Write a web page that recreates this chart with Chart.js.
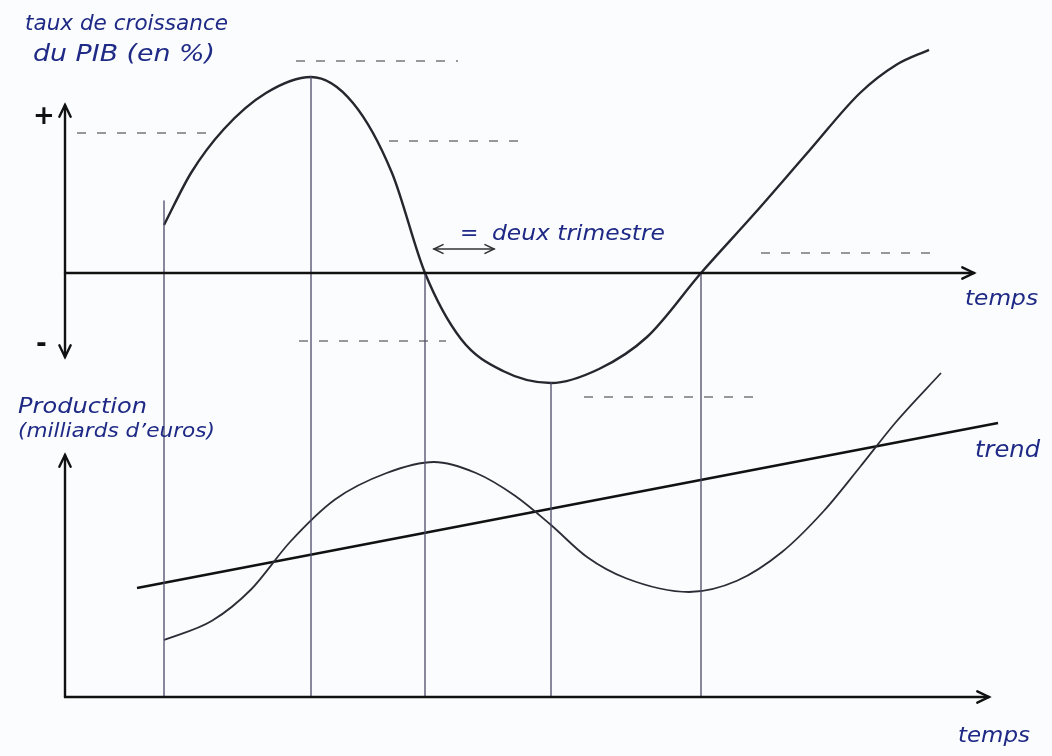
<!DOCTYPE html>
<html>
<head>
<meta charset="utf-8">
<script src="https://cdn.jsdelivr.net/npm/chart.js"></script>
<style>
    body { margin: 0; background: #fbfcfd; }
    #wrap { width: 1052px; height: 756px; }
</style>
</head>
<body>
<div id="wrap"><canvas id="myChart" width="1052" height="756"></canvas></div>
<script>
// time in quarters, growth in %, production in billions of euros
var growthT = [3.3, 4.2, 5.3, 6.7, 8.2, 9.6, 10.9, 12.0, 13.2, 14.6, 16.2, 17.8, 19.4, 21.2, 23.0, 24.8, 26.5, 27.7, 28.8];
var growthV = [1.2, 2.5, 3.6, 4.5, 4.9, 4.25, 2.5, 0, -1.65, -2.45, -2.75, -2.4, -1.6, 0, 1.5, 3.05, 4.5, 5.2, 5.58];

var prodT = [3.3, 4.9, 6.2, 7.5, 9.0, 10.7, 12.3, 13.7, 15.0, 16.2, 17.4, 18.7, 20.8, 22.4, 23.9, 25.3, 26.5, 27.7, 29.2];
var prodV = [22.8, 30.5, 43, 62, 79, 89.5, 94, 89.6, 80.5, 68.8, 56, 47.5, 42, 46.5, 58, 74.5, 92, 110, 129.6];

var trendT = [2.4, 31.1];
var trendV = [43.6, 109.6];

// turning points and zero crossings, dropped down to the time axis
var markT = [3.3, 8.2, 12.0, 16.2, 21.2];
var markTop = [1.8, 4.9, 0, -2.75, 0];

// dashed reference levels on the growth chart
var dashFrom = [0.4, 7.7, 10.8, 7.8, 17.3, 23.2];
var dashTo = [4.8, 13.1, 15.4, 12.7, 23.0, 29.0];
var dashLevel = [3.5, 5.3, 3.3, -1.7, -3.1, 0.5];

// "deux trimestre" marker
var twoQuarters = [12.3, 14.3];
var twoQuartersLevel = 0.6;

// axis extents
var growthAxisTop = 4.2, growthAxisBottom = -2.1, growthAxisEnd = 30.3;
var prodAxisTop = 96.8, prodAxisEnd = 30.8;

var ink = '#1f2a86';

function pts(xs, ys) {
    var out = [];
    for (var i = 0; i < xs.length; i++) out.push({x: xs[i], y: ys[i]});
    return out;
}

var datasets = [
    {data: pts(growthT, growthV), yAxisID: 'g', borderColor: '#26262e', borderWidth: 2.4, cubicInterpolationMode: 'monotone'},
    {data: pts(prodT, prodV), yAxisID: 'p', borderColor: '#2c2c36', borderWidth: 1.8, cubicInterpolationMode: 'monotone'},
    {data: pts(trendT, trendV), yAxisID: 'p', borderColor: '#111', borderWidth: 2.5, tension: 0}
];
for (var d = 0; d < dashLevel.length; d++) {
    datasets.push({
        data: pts([dashFrom[d], dashTo[d]], [dashLevel[d], dashLevel[d]]),
        yAxisID: 'g', borderColor: '#77777f', borderWidth: 1.3, borderDash: [9, 11], tension: 0
    });
}

function arrowHead(ctx, x, y, ang, size) {
    ctx.beginPath();
    ctx.moveTo(x - size * Math.cos(ang - 0.45), y - size * Math.sin(ang - 0.45));
    ctx.lineTo(x, y);
    ctx.lineTo(x - size * Math.cos(ang + 0.45), y - size * Math.sin(ang + 0.45));
    ctx.stroke();
}

function line(ctx, x1, y1, x2, y2) {
    ctx.beginPath();
    ctx.moveTo(x1, y1);
    ctx.lineTo(x2, y2);
    ctx.stroke();
}

// draw a label at the given size, stretched a little so it runs from x1 to x2
function fitText(ctx, txt, size, x1, x2, y) {
    ctx.font = 'italic ' + size + 'px "DejaVu Sans"';
    var w = ctx.measureText(txt).width;
    ctx.save();
    ctx.translate(x1, y);
    ctx.scale((x2 - x1) / w, 1);
    ctx.fillText(txt, 0, 0);
    ctx.restore();
}

var sketch = {
    id: 'sketch',
    afterDatasetsDraw: function (chart) {
        var ctx = chart.ctx;
        var x = chart.scales.x, g = chart.scales.g, p = chart.scales.p;
        ctx.save();
        ctx.lineCap = 'round';

        // vertical guides
        ctx.strokeStyle = '#4a4a6a';
        ctx.lineWidth = 1.3;
        for (var i = 0; i < markT.length; i++) {
            var vx = x.getPixelForValue(markT[i]);
            line(ctx, vx, g.getPixelForValue(markTop[i]), vx, p.getPixelForValue(0));
        }

        // axes
        ctx.strokeStyle = '#111';
        ctx.lineWidth = 2.4;
        var x0 = x.getPixelForValue(0);
        var gTop = g.getPixelForValue(growthAxisTop), gBot = g.getPixelForValue(growthAxisBottom), g0 = g.getPixelForValue(0);
        line(ctx, x0, gTop, x0, gBot);
        arrowHead(ctx, x0, gTop, -Math.PI / 2, 13);
        arrowHead(ctx, x0, gBot, Math.PI / 2, 13);
        var gEnd = x.getPixelForValue(growthAxisEnd);
        line(ctx, x0, g0, gEnd, g0);
        arrowHead(ctx, gEnd, g0, 0, 13);

        var p0 = p.getPixelForValue(0), pTop = p.getPixelForValue(prodAxisTop), pEnd = x.getPixelForValue(prodAxisEnd);
        line(ctx, x0, p0, x0, pTop);
        arrowHead(ctx, x0, pTop, -Math.PI / 2, 13);
        line(ctx, x0, p0, pEnd, p0);
        arrowHead(ctx, pEnd, p0, 0, 13);

        // two-quarter span
        ctx.strokeStyle = '#333';
        ctx.lineWidth = 1.6;
        var ax1 = x.getPixelForValue(twoQuarters[0]), ax2 = x.getPixelForValue(twoQuarters[1]), ay = g.getPixelForValue(twoQuartersLevel);
        line(ctx, ax1, ay, ax2, ay);
        arrowHead(ctx, ax1, ay, Math.PI, 10);
        arrowHead(ctx, ax2, ay, 0, 10);

        // handwritten labels
        ctx.fillStyle = ink;
        fitText(ctx, 'taux de croissance', 22, 25, 228, 30);
        fitText(ctx, 'du PIB (en %)', 23, 33, 215, 61);
        fitText(ctx, 'Production', 22, 18, 147, 413);
        fitText(ctx, '(milliards d\u2019euros)', 20, 18, 215, 437);
        ctx.font = 'italic 22px "DejaVu Sans"';
        ctx.fillText('=', 460, 240);
        fitText(ctx, 'deux trimestre', 22, 492, 665, 240);
        fitText(ctx, 'trend', 23, 975, 1040, 457);
        fitText(ctx, 'temps', 22, 965, 1038, 305);
        fitText(ctx, 'temps', 22, 958, 1030, 742);
        ctx.fillStyle = '#111';
        ctx.font = 'bold 26px "DejaVu Sans"';
        ctx.fillText('+', 33, 124);
        ctx.fillText('-', 36, 352);
        ctx.restore();
    }
};

var chart = new Chart(document.getElementById('myChart').getContext('2d'), {
    type: 'line',
    data: {datasets: datasets},
    options: {
        responsive: false,
        animation: false,
        layout: {padding: 0},
        elements: {point: {radius: 0}, line: {fill: false}},
        plugins: {legend: {display: false}, tooltip: {enabled: false}},
        scales: {
            x: {type: 'linear', display: false, min: -2.1667, max: 32.9},
            g: {type: 'linear', display: false, min: -12.075, max: 6.825},
            p: {type: 'linear', display: false, min: -23.6, max: 278.8}
        }
    },
    plugins: [sketch]
});
</script>
</body>
</html>
